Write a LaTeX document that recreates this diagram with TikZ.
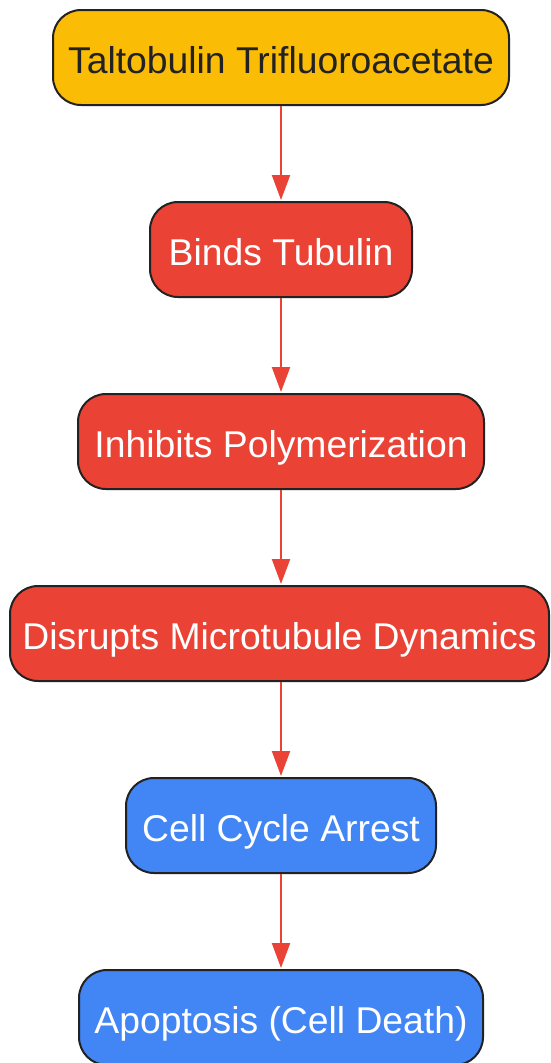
\documentclass[tikz,border=0pt]{standalone}
\usepackage{fontspec}
\setmainfont{Liberation Sans}
\usetikzlibrary{arrows.meta}
\definecolor{gyellow}{HTML}{FBBC05}
\definecolor{gred}{HTML}{EA4335}
\definecolor{gblue}{HTML}{4285F4}
\definecolor{edge}{HTML}{222222}
\begin{document}
\begin{tikzpicture}[x=1pt,y=-1pt,
  box/.style={draw=edge,line width=2pt,rectangle,rounded corners=28pt,minimum height=95pt,inner sep=0pt,text height=38pt,text depth=7pt,font=\fontsize{37.3}{44}\selectfont},
  ybox/.style={box,fill=gyellow,text=edge},
  rbox/.style={box,fill=gred,text=white},
  bbox/.style={box,fill=gblue,text=white},
  conn/.style={draw=gred,line width=2.2pt,-{Triangle[length=25pt,width=18pt]},shorten >=1pt}]
\useasboundingbox (0,0) rectangle (550,1063);
\node[ybox,minimum width=456pt] (n1) at (281,57.5) {Taltobulin Trifluoroacetate};
\node[rbox,minimum width=262pt] (n2) at (281,249.5) {Binds Tubulin};
\node[rbox,minimum width=406pt] (n3) at (281,441.5) {Inhibits Polymerization};
\node[rbox,minimum width=539pt] (n4) at (279.5,633.5) {Disrupts Microtubule Dynamics};
\node[bbox,minimum width=310pt] (n5) at (281,825.5) {Cell Cycle Arrest};
\node[bbox,minimum width=404pt] (n6) at (281,1017.5) {Apoptosis (Cell Death)};
\draw[conn] (n1.south) -- (n2.north);
\draw[conn] (n2.south) -- (n3.north);
\draw[conn] (n3.south) -- (n4.north -| n3.south);
\draw[conn] (n4.south -| n3.south) -- (n5.north);
\draw[conn] (n5.south) -- (n6.north);
\end{tikzpicture}
\end{document}
